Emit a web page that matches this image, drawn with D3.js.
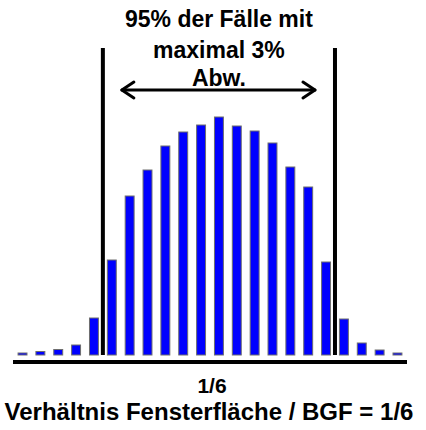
<!DOCTYPE html>
<html>
<head>
<meta charset="utf-8">
<script src="https://cdn.jsdelivr.net/npm/d3@7"></script>
<style>
  html, body { margin: 0; padding: 0; background: #fff; }
  svg { display: block; }
  text { font-family: "Liberation Sans", Arial, sans-serif; font-weight: bold; fill: #000; }
</style>
</head>
<body>
<script>
// ---- data ----
const categories = ["1","2","3","4","5","6","7","8","9","10","11","12","13","14","15","16","17","18","19","20","21","22"];
const counts = [2, 3.5, 5.5, 10, 37, 95, 159, 185, 209, 223, 230, 238, 229, 224, 212, 188, 168, 93, 36, 12, 5, 2];
const rangeBounds = ["6", "19"];           // first category inside / first category outside the 95% range
const tickLabels = ["1/6"];
const annotationLines = ["95% der Fälle mit", "maximal 3%", "Abw."];
const axisTitle = "Verhältnis Fensterfläche / BGF = 1/6";

// ---- layout ----
const W = 426, H = 430;
const svg = d3.select("body").append("svg").attr("width", W).attr("height", H);

const x = d3.scaleBand().domain(categories).range([13.6, 406.4]).paddingInner(0.5).paddingOuter(0.25);
const y = d3.scaleLinear().domain([0, 250]).range([355, 105]);

// bars
svg.append("g").selectAll("rect").data(counts).join("rect")
  .attr("x", (d, i) => x(categories[i]))
  .attr("y", d => y(d))
  .attr("width", x.bandwidth())
  .attr("height", d => y(0) - y(d))
  .attr("fill", "#0000ff")
  .attr("stroke", "#6e6e6e")
  .attr("stroke-width", 1);

// x axis baseline (thick black)
svg.append("line")
  .attr("x1", 13).attr("x2", 407)
  .attr("y1", 362).attr("y2", 362)
  .attr("stroke", "#000").attr("stroke-width", 4);

// tick label (center of x range)
const [r0, r1] = x.range();
svg.append("text")
  .attr("x", (r0 + r1) / 2 + 2).attr("y", 393)
  .attr("text-anchor", "middle").attr("font-size", 21)
  .text(tickLabels[0]);

svg.append("text")
  .attr("x", (r0 + r1) / 2 - 1).attr("y", 420)
  .attr("text-anchor", "middle").attr("font-size", 24)
  .text(axisTitle);

// vertical range lines at band boundaries
const step = x.step();
const gap = (step - x.bandwidth()) / 2;
const xl = x(rangeBounds[0]) - gap;
const xr = x(rangeBounds[1]) - gap;
[xl, xr].forEach(xx => {
  svg.append("line")
    .attr("x1", xx).attr("x2", xx)
    .attr("y1", 48).attr("y2", 355)
    .attr("stroke", "#000").attr("stroke-width", 4);
});

// double-headed arrow
const ay = 90, ax1 = xl + 19, ax2 = xr - 20;
const arrow = svg.append("g").attr("stroke", "#000").attr("stroke-width", 3).attr("fill", "none")
  .attr("stroke-linecap", "round").attr("stroke-linejoin", "round");
arrow.append("line").attr("x1", ax1).attr("x2", ax2).attr("y1", ay).attr("y2", ay);
arrow.append("path").attr("d", `M${ax1 + 12},${ay - 8} L${ax1},${ay} L${ax1 + 12},${ay + 8}`);
arrow.append("path").attr("d", `M${ax2 - 12},${ay - 8} L${ax2},${ay} L${ax2 - 12},${ay + 8}`);

// annotation text
const tx = (xl + xr) / 2;
const baselines = [27, 58, 86];
annotationLines.forEach((t, i) => {
  svg.append("text")
    .attr("x", tx).attr("y", baselines[i])
    .attr("text-anchor", "middle").attr("font-size", 23)
    .text(t);
});
</script>
</body>
</html>
